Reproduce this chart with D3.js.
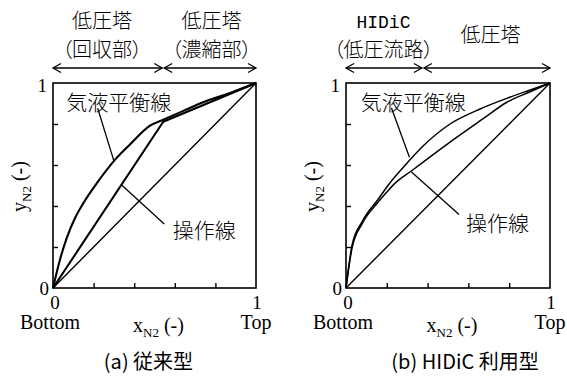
<!DOCTYPE html>
<html><head><meta charset="utf-8">
<script src="https://cdn.jsdelivr.net/npm/d3@7"></script>
<style>
body{margin:0;background:#fff;}
svg{display:block;}
.cjk{font-family:"Noto Sans CJK JP","Noto Sans CJK SC",sans-serif;font-weight:300;font-feature-settings:"palt";}
.ser{font-family:"Liberation Serif","DejaVu Serif",serif;}
.cap{font-family:"Noto Sans CJK JP","Noto Sans",sans-serif;font-weight:400;}
</style>
</head><body>
<svg id="c" width="567" height="387"></svg>
<script>
// ---- data ----
const ticks = [0, 0.2, 0.4, 0.6, 0.8, 1];
const tickLabels = ["0", "1"];
const diagonal = [[0,0],[1,1]];
// (a) conventional
const eqA = [[0,0],[0.034,0.137],[0.067,0.242],[0.108,0.34],[0.149,0.413],[0.215,0.51],[0.305,0.625],[0.379,0.7],[0.478,0.792],[0.543,0.821],[0.642,0.864],[0.724,0.9],[0.888,0.958],[1,1]];
const opA = [[0,0],[0.543,0.811],[1,1]];
const sectionsA = [0, 0.543, 1];
const sectionLabelsA = [["低圧塔","（回収部）"],["低圧塔","（濃縮部）"]];
// (b) HIDiC
const eqB = [[0,0],[0.03,0.21],[0.08,0.325],[0.157,0.432],[0.214,0.511],[0.281,0.589],[0.379,0.694],[0.51,0.8],[0.657,0.873],[0.788,0.925],[0.9,0.965],[1,1]];
const opB = [[0,0],[0.03,0.197],[0.08,0.315],[0.157,0.418],[0.2,0.468],[0.232,0.503],[0.322,0.572],[0.51,0.712],[0.69,0.838],[0.788,0.906],[0.9,0.956],[1,1]];
const sectionsB = [0, 0.377, 1];
const sectionLabelsB = [["HIDiC","（低圧流路）"],["低圧塔"]];
const captions = ["(a) 従来型", "(b) HIDiC 利用型"];
const eqLabel = "気液平衡線", opLabel = "操作線";

const svg = d3.select("#c");

function panel(x0, x1, eq, op, secs, secLabels, caption, opt){
  const y0 = 288, y1 = 83;
  const x = d3.scaleLinear().domain([0,1]).range([x0, x1]);
  const y = d3.scaleLinear().domain([0,1]).range([y0, y1]);
  const g = svg.append("g");
  const lineL = d3.line().x(d=>x(d[0])).y(d=>y(d[1]));
  const lineS = d3.line().x(d=>x(d[0])).y(d=>y(d[1])).curve(d3.curveMonotoneX);
  // box
  g.append("rect").attr("x",x0).attr("y",y1).attr("width",x1-x0).attr("height",y0-y1)
    .attr("fill","none").attr("stroke","#000").attr("stroke-width",1.6);
  // inner ticks
  const ax = d3.axisTop(x).tickValues(ticks.slice(1,-1)).tickSize(5).tickFormat("");
  g.append("g").attr("transform",`translate(0,${y0})`).call(ax).call(s=>{s.select(".domain").remove();s.selectAll("line").attr("stroke-width",1.4);});
  const ay = d3.axisRight(y).tickValues(ticks.slice(1,-1)).tickSize(5).tickFormat("");
  g.append("g").attr("transform",`translate(${x0},0)`).call(ay).call(s=>{s.select(".domain").remove();s.selectAll("line").attr("stroke-width",1.4);});
  // curves
  g.append("path").attr("d",lineL(diagonal)).attr("fill","none").attr("stroke","#000").attr("stroke-width",1.4);
  g.append("path").attr("d",lineS(eq)).attr("fill","none").attr("stroke","#000").attr("stroke-width",opt.lw).attr("stroke-linejoin","round");
  g.append("path").attr("d",(opt.opSmooth?lineS:lineL)(op)).attr("fill","none").attr("stroke","#000").attr("stroke-width",opt.lw).attr("stroke-linejoin","round");
  // tick labels
  const fs = 19;
  g.append("text").attr("class","ser").attr("x",x0-6).attr("y",y(1)+9).attr("text-anchor","end").attr("font-size",fs).text(tickLabels[1]);
  g.append("text").attr("class","ser").attr("x",x0-4).attr("y",y(0)+7).attr("text-anchor","end").attr("font-size",fs).text(tickLabels[0]);
  g.append("text").attr("class","ser").attr("x",x(0)+2).attr("y",y0+21).attr("text-anchor","middle").attr("font-size",fs).text(tickLabels[0]);
  g.append("text").attr("class","ser").attr("x",x(1)+1).attr("y",y0+21).attr("text-anchor","middle").attr("font-size",fs).text(tickLabels[1]);
  g.append("text").attr("class","ser").attr("x",x(0)-3).attr("y",y0+41).attr("text-anchor","middle").attr("font-size",fs+1).text("Bottom");
  g.append("text").attr("class","ser").attr("x",x(1)).attr("y",y0+41).attr("text-anchor","middle").attr("font-size",fs+1).text("Top");
  // x label
  const xl = g.append("text").attr("class","ser").attr("x",x(0.5)+4).attr("y",y0+44).attr("text-anchor","middle").attr("font-size",20);
  xl.append("tspan").text("x");
  xl.append("tspan").attr("font-size",13).attr("dy",5).text("N2");
  xl.append("tspan").attr("dy",-5).text(" (-)");
  // y label
  const yl = g.append("text").attr("class","ser").attr("transform",`translate(${x0-27},${y(0.5)+1}) rotate(-90)`).attr("text-anchor","middle").attr("font-size",20);
  yl.append("tspan").text("y");
  yl.append("tspan").attr("font-size",13).attr("dy",5).text("N2");
  yl.append("tspan").attr("dy",-5).text(" (-)");
  // section arrows
  const ay2 = 68;
  for(let i=0;i<secs.length-1;i++){
    const a = x(secs[i]) + (i>0?1:0), b = x(secs[i+1]) - (i<secs.length-2?1:0);
    g.append("line").attr("x1",a).attr("x2",b).attr("y1",ay2).attr("y2",ay2).attr("stroke","#000").attr("stroke-width",1.3);
    g.append("path").attr("d",`M${a+8},${ay2-4.5}L${a},${ay2}L${a+8},${ay2+4.5}`).attr("fill","none").attr("stroke","#000").attr("stroke-width",1.3);
    g.append("path").attr("d",`M${b-8},${ay2-4.5}L${b},${ay2}L${b-8},${ay2+4.5}`).attr("fill","none").attr("stroke","#000").attr("stroke-width",1.3);
    const cx = (x(secs[i])+x(secs[i+1]))/2 + opt.secDx[i];
    const lbl = secLabels[i];
    if(lbl.length===2){
      const t0 = g.append("text").attr("x",cx).attr("y",28).attr("text-anchor","middle").attr("font-size",20).text(lbl[0]);
      if(lbl[0]==="HIDiC") t0.attr("font-family","Liberation Mono, monospace").attr("font-size",18).attr("y",28);
      else t0.attr("class","cjk");
      g.append("text").attr("class","cjk").attr("x",cx).attr("y",57).attr("text-anchor","middle").attr("font-size",20).text(lbl[1]);
    } else {
      g.append("text").attr("class","cjk").attr("x",cx).attr("y",42).attr("text-anchor","middle").attr("font-size",20).text(lbl[0]);
    }
  }
  // annotations
  const an = opt.ann;
  g.append("line").attr("x1",x(an.eqL[0])).attr("y1",y(an.eqL[1])).attr("x2",x(an.eqL[2])).attr("y2",y(an.eqL[3])).attr("stroke","#000").attr("stroke-width",1.3);
  g.append("line").attr("x1",x(an.opL[0])).attr("y1",y(an.opL[1])).attr("x2",x(an.opL[2])).attr("y2",y(an.opL[3])).attr("stroke","#000").attr("stroke-width",1.3);
  g.append("text").attr("class","cjk").attr("x",x(an.eqT[0])).attr("y",y(an.eqT[1])).attr("font-size",21).text(eqLabel);
  g.append("text").attr("class","cjk").attr("x",x(an.opT[0])).attr("y",y(an.opT[1])).attr("font-size",21).text(opLabel);
  // caption
  g.append("text").attr("class","cap").attr("x",x(0.5)+opt.capDx).attr("y",369).attr("text-anchor","middle").attr("font-size",20).text(caption);
}

panel(53, 256, eqA, opA, sectionsA, sectionLabelsA, captions[0], {
  lw: 2.1, secDx: [-6, 2], capDx: -6, opSmooth: false,
  ann: {eqL:[0.22,0.877,0.3,0.62], opL:[0.338,0.502,0.548,0.312], eqT:[0.065,0.868], opT:[0.59,0.246]}
});
panel(346, 550, eqB, opB, sectionsB, sectionLabelsB, captions[1], {
  lw: 1.5, secDx: [-1, 4], capDx: 17, opSmooth: true,
  ann: {eqL:[0.223,0.878,0.311,0.638], opL:[0.321,0.566,0.554,0.359], eqT:[0.072,0.868], opT:[0.588,0.28]}
});
</script>
</body></html>
